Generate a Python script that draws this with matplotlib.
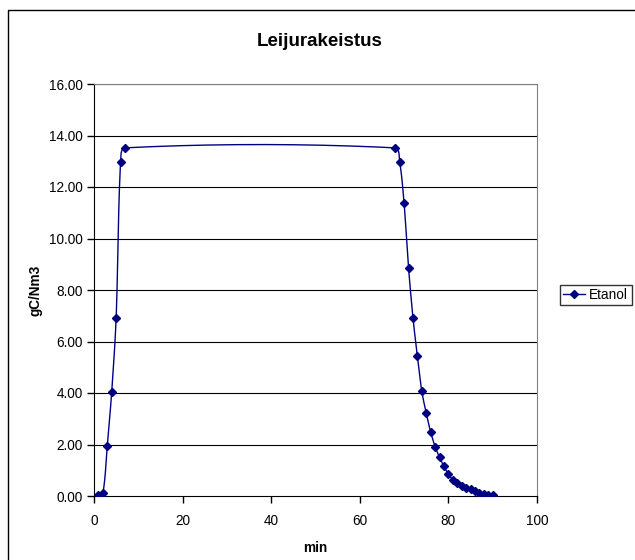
import numpy as np
import matplotlib.pyplot as plt
from matplotlib.patches import Rectangle
from matplotlib.lines import Line2D

# Leijurakeistus - etanolipitoisuus ajan funktiona
plt.rcParams['font.family'] = ['Liberation Sans', 'DejaVu Sans']

aika = [1, 2, 3, 4, 5, 6, 7,
        68, 69, 70, 71, 72, 73, 74, 75, 76, 77, 78, 79,
        80, 81, 82, 83, 84, 85, 86, 87, 88, 89, 90]
etanoli = [0.02, 0.10, 1.95, 4.05, 6.93, 12.98, 13.52,
           13.52, 12.98, 11.36, 8.87, 6.93, 5.42, 4.06, 3.22, 2.48, 1.92, 1.50, 1.15,
           0.85, 0.63, 0.50, 0.40, 0.33, 0.27, 0.20, 0.12, 0.08, 0.04, 0.02]
y_ticks = [0, 2, 4, 6, 8, 10, 12, 14, 16]
x_ticks = [0, 20, 40, 60, 80, 100]

vari = '#000080'


def pehmea(x, y, sx, sy, n=30):
    # Excel-tyylinen pehmennetty viiva (Bezier, jänteen pituudella painotettu)
    p = np.column_stack([np.asarray(x, float) * sx, np.asarray(y, float) * sy])
    d = np.hypot(*np.diff(p, axis=0).T)
    t = np.linspace(0, 1, n)[:, None]
    out = []
    for i in range(len(p) - 1):
        p0 = p[i - 1] if i > 0 else p[i]
        p3 = p[i + 2] if i + 2 < len(p) else p[i + 1]
        dprev = d[i - 1] if i > 0 else d[i]
        dnext = d[i + 1] if i + 1 < len(d) else d[i]
        c1 = p[i] + (p[i + 1] - p0) * d[i] / (dprev + d[i]) / 3
        c2 = p[i + 1] - (p3 - p[i]) * d[i] / (d[i] + dnext) / 3
        seg = ((1 - t) ** 3) * p[i] + 3 * ((1 - t) ** 2) * t * c1 + 3 * (1 - t) * t ** 2 * c2 + t ** 3 * p[i + 1]
        out.append(seg)
    out = np.vstack(out)
    return out[:, 0] / sx, out[:, 1] / sy


fig = plt.figure(figsize=(6.35, 5.6), dpi=100)
ax = fig.add_axes([94 / 635, 1 - 496 / 560, (537 - 94) / 635, (496 - 84) / 560])

# kaavioalueen reunus
fig.add_artist(Rectangle((8 / 635, -0.05), 1.1, 1 - 10 / 560 + 0.05, transform=fig.transFigure,
                         fill=False, edgecolor='black', linewidth=1))

ax.set_xlim(0, 100)
ax.set_ylim(0, 16)

for v in y_ticks[1:]:
    ax.axhline(v, color='black', linewidth=0.8, zorder=1)

sx = 443 / 100
sy = 412 / 16
xs, ys = pehmea(aika, etanoli, sx, sy)
ax.plot(xs, ys, color=vari, linewidth=1, zorder=3)
ax.plot(aika, etanoli, linestyle='none', marker='D', markersize=3.8,
        color=vari, zorder=4)

ax.set_xticks(x_ticks)
ax.set_yticks(y_ticks)
ax.set_yticklabels([f'{v:.2f}' for v in y_ticks])
ax.tick_params(axis='both', direction='out', length=5, width=1, labelsize=9.8)
ax.tick_params(axis='x', pad=8)
ax.tick_params(axis='y', pad=3)

ax.spines['left'].set_color('black')
ax.spines['bottom'].set_color('black')
ax.spines['top'].set_color('#808080')
ax.spines['right'].set_color('#808080')

fig.text(320 / 635, 1 - 42 / 560, 'Leijurakeistus', fontsize=13.5, fontweight='bold',
         ha='center', va='center')
ax.set_xlabel('min', fontsize=9.8, fontweight='bold', labelpad=9)
ax.set_ylabel('gC/Nm3', fontsize=9.8, fontweight='bold', labelpad=5)

kahva = Line2D([], [], color=vari, marker='D', markersize=3.8, linewidth=1)
leg = fig.legend([kahva], ['Etanol'], loc='center left', bbox_to_anchor=(560 / 635, 1 - 295 / 560),
                 fontsize=9.8, frameon=True, fancybox=False, borderpad=0.25, handlelength=1.6,
                 handletextpad=0.3, borderaxespad=0)
leg.get_frame().set_edgecolor('black')
leg.get_frame().set_linewidth(1)

plt.savefig('out.png', dpi=100)
